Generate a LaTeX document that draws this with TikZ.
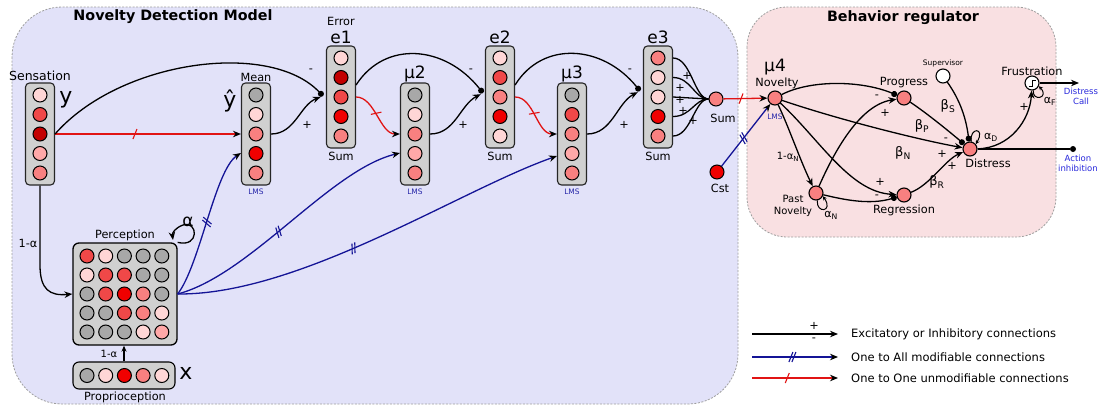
\documentclass[tikz,border=0pt]{standalone}
\usepackage{fontspec}
\setmainfont{DejaVu Sans}
\usetikzlibrary{arrows.meta,decorations.markings,calc}
\definecolor{bgblue}{RGB}{226,226,249}
\definecolor{bgpink}{RGB}{249,224,226}
\definecolor{cg}{RGB}{168,168,168}
\definecolor{ca}{RGB}{255,214,214}
\definecolor{cb}{RGB}{255,168,168}
\definecolor{cc}{RGB}{248,128,128}
\definecolor{cd}{RGB}{240,72,72}
\definecolor{ce}{RGB}{240,0,0}
\definecolor{cf}{RGB}{195,0,0}
\definecolor{lmsblue}{RGB}{40,40,170}
\definecolor{txtblue}{RGB}{40,40,220}
\definecolor{conblue}{RGB}{20,20,150}
\definecolor{conred}{RGB}{225,20,20}
\definecolor{boxgray}{RGB}{208,208,208}
\newcommand{\mkcol}[8]{%
  \node[colbox] (#1) at (#2,#3) {};
  \node[neur,fill=#4] (#1a) at (#2,#3-39) {};
  \node[neur,fill=#5] (#1b) at (#2,#3-19.5) {};
  \node[neur,fill=#6] (#1c) at (#2,#3) {};
  \node[neur,fill=#7] (#1d) at (#2,#3+19.5) {};
  \node[neur,fill=#8] (#1e) at (#2,#3+39) {};
}
\begin{document}
\begin{tikzpicture}[x=1pt,y=-1pt,
  neur/.style={circle,draw=black,line width=1pt,minimum size=14pt,inner sep=0pt},
  brn/.style={circle,draw=black,line width=1.1pt,fill=cc,minimum size=14pt,inner sep=0pt},
  colbox/.style={rectangle,draw=black!85,fill=boxgray,line width=1.1pt,rounded corners=4pt,minimum width=29pt,minimum height=102pt,inner sep=0pt},
  bgreg/.style={draw=gray!75,line width=0.8pt,dash pattern=on 2pt off 1.5pt},
  title/.style={font=\fontsize{14.3}{17}\selectfont\bfseries},
  lab/.style={font=\fontsize{11.3}{13}\selectfont,inner sep=0pt},
  slab/.style={font=\fontsize{10}{12}\selectfont,inner sep=0pt},
  big/.style={font=\fontsize{22}{24}\selectfont,inner sep=0pt},
  mid/.style={font=\fontsize{17}{19}\selectfont,inner sep=0pt},
  lms/.style={font=\fontsize{7.5}{9}\selectfont,text=lmsblue,inner sep=0pt},
  blab/.style={font=\fontsize{8.5}{10}\selectfont,text=txtblue,inner sep=0pt,align=center},
  leg/.style={font=\fontsize{11.5}{13}\selectfont,inner sep=0pt,anchor=west},
  exc/.style={draw=black,line width=1.3pt,-{Stealth[length=8pt,width=6.5pt]}},
  inh/.style={draw=black,line width=1.3pt,-{Circle[length=6pt]}},
  blk/.style={draw=black,line width=1.3pt},
  bline/.style={draw=conblue,line width=1.3pt,-{Stealth[length=8pt,width=6.5pt,color=black]}},
  rline/.style={draw=conred,line width=1.3pt,-{Stealth[length=8pt,width=6.5pt,color=black]}},
  oneslash/.style={postaction={decorate,decoration={markings,mark=at position #1 with {\draw[conred,line width=1.1pt,-] (-2pt,-5pt) -- (2pt,5pt);}}}},
  twoslash/.style={postaction={decorate,decoration={markings,mark=at position #1 with {\draw[conblue,line width=1.1pt,-] (-3.5pt,-5pt) -- (0.5pt,5pt); \draw[conblue,line width=1.1pt,-] (-0.5pt,-5pt) -- (3.5pt,5pt);}}}}
]
\useasboundingbox (0,0) rectangle (1104,408);
\fill[white] (0,0) rectangle (1104,408);
% regions
\draw[bgreg,fill=bgblue,rounded corners=50pt] (12,7) rectangle (738,404);
\draw[bgreg,fill=bgpink,rounded corners=40pt] (747,7) rectangle (1056,237);
\node[title] (t1) at (173,17) {Novelty Detection Model};
\node[title] (t2) at (903,18) {Behavior regulator};

% columns
\mkcol{sens}{40}{134}{ca}{cd}{cf}{cb}{cc}
\mkcol{mean}{256}{134}{cg}{ca}{cc}{ce}{cc}
\mkcol{eone}{341}{97}{ca}{cf}{cd}{ce}{cc}
\mkcol{mutwo}{415}{134}{cg}{ca}{cc}{cb}{cc}
\mkcol{etwo}{500}{97}{ca}{cd}{cc}{ce}{ca}
\mkcol{muthree}{572}{134}{cg}{cd}{cc}{cb}{cc}
\mkcol{ethree}{658}{97}{cc}{ca}{ca}{ce}{cc}

\node[lab,font=\fontsize{12.5}{14}\selectfont] (lsens) at (40,76) {Sensation};
\node[big] (ly) at (66,100) {y};
\node[lab] (lmean) at (256,77) {Mean};
\node[big] (lyhat) at (230,101) {ŷ};
\node[lms] (lms1) at (256,192) {LMS};
\node[lms] (lms2) at (415,192) {LMS};
\node[lms] (lms3) at (572,192) {LMS};
\node[lab] (lerr) at (341,21) {Error};
\node[mid] (le1) at (341,37) {e1};
\node[mid] (le2) at (500,37) {e2};
\node[mid] (le3) at (658,37) {e3};
\node[mid] (lmu2) at (415,74) {μ2};
\node[mid] (lmu3) at (572,74) {μ3};
\node[lab] (ls1) at (341,156) {Sum};
\node[lab] (ls2) at (500,156) {Sum};
\node[lab] (ls3) at (658,156) {Sum};

% junctions
\coordinate (jone) at (323,96);
\coordinate (jtwo) at (483,93);
\coordinate (jthree) at (640,91);

\draw[rline,oneslash=0.43] (sens.east) -- (mean.west);
\draw[inh] (sens.east) .. controls (120,60) and (270,40) .. (jone);
\draw[exc,shorten >=2.5pt] (mean.east) .. controls (295,134) and (300,105) .. (jone);
\draw[rline,oneslash=0.45] (eone.east) .. controls (375,97) and (380,134) .. (mutwo.west);
\draw[inh] ([yshift=12pt]eone.east) .. controls (385,40) and (445,45) .. (jtwo);
\draw[exc,shorten >=2.5pt] (mutwo.east) .. controls (455,134) and (460,105) .. (jtwo);
\draw[rline,oneslash=0.45] (etwo.east) .. controls (534,97) and (537,134) .. (muthree.west);
\draw[inh] ([yshift=12pt]etwo.east) .. controls (543,40) and (603,45) .. (jthree);
\draw[exc,shorten >=2.5pt] (muthree.east) .. controls (612,134) and (617,103) .. (jthree);
\node[lab] at (311,71) {-};
\node[lab] at (471,71) {-};
\node[lab] at (630,71) {-};
\node[lab] at (307,125) {+};
\node[lab] at (463,125) {+};
\node[lab] at (624,125) {+};

% sum and cst
\node[neur,fill=cc] (sumn) at (716,99) {};
\node[neur,fill=ce] (cst) at (717,172) {};
\node[lab] (lsum) at (723,118) {Sum};
\node[lab] (lcst) at (720,188) {Cst};
\foreach \s in {a,b,d,e}
  \draw[blk] (ethree.east |- ethree\s) .. controls +(18,0) and +(-14,0) .. (sumn.west);
\draw[exc] (ethree.east |- ethreec) -- (sumn.west);
\node[lab] at (687,76) {+};
\node[lab] at (680,88) {+};
\node[lab] at (680,100) {+};
\node[lab] at (683,111) {+};
\node[lab] at (693,121) {+};

% perception
\node[rectangle,draw=black,fill=boxgray,line width=1.3pt,rounded corners=6pt,minimum width=104pt,minimum height=102pt] (perc) at (125,294) {};
\foreach \c [count=\j] in {cd,ca,cg,cg,cg} \node[neur,fill=\c] (pa\j) at ({87+18.7*(\j-1)},256) {};
\foreach \c [count=\j] in {ca,cd,cd,cg,cg} \node[neur,fill=\c] (pb\j) at ({87+18.7*(\j-1)},275) {};
\foreach \c [count=\j] in {cg,cd,ce,cc,cg} \node[neur,fill=\c] (pc\j) at ({87+18.7*(\j-1)},294) {};
\foreach \c [count=\j] in {cg,cg,cd,cc,ca} \node[neur,fill=\c] (pd\j) at ({87+18.7*(\j-1)},313) {};
\foreach \c [count=\j] in {cg,cg,cg,ca,cb} \node[neur,fill=\c] (pe\j) at ({87+18.7*(\j-1)},332) {};
\node[lab] (lperc) at (125,235) {Perception};
\node[rectangle,draw=black,fill=boxgray,line width=1.1pt,rounded corners=6pt,minimum width=102pt,minimum height=27pt] (prop) at (124,375.5) {};
\foreach \c [count=\j] in {cg,ca,ce,cc,ca} \node[neur,fill=\c] (pr\j) at ({87+18.7*(\j-1)},375.5) {};
\node[lab] (lprop) at (125,397) {Proprioception};
\node[big] (lx) at (186,373) {x};
\node[slab] (lpa) at (109,354) {1-α};
\draw[exc,-{Stealth[length=6pt,width=5pt]}] (prop.north) -- (prop.north |- perc.south);
\draw[exc] (perc.north east) .. controls (200,248) and (198,220) .. (183,225) .. controls (175,228) and (172,233) .. (173,240);
\node[mid] (lalpha) at (188,222) {α};

\draw[exc] (sens.south) -- (40,265) .. controls (40,290) and (50,296) .. (perc.west);
\node[lab] (lsa) at (28,243) {1-α};

\draw[bline,twoslash=0.5] (perc.east) .. controls (200,265) and (215,170) .. ([yshift=-19pt]mean.west);
\draw[bline,twoslash=0.45] (perc.east) .. controls (250,275) and (330,170) .. ([yshift=-19pt]mutwo.west);
\draw[bline,twoslash=0.45] (perc.east) .. controls (300,295) and (460,190) .. ([yshift=-22pt]muthree.west);

% behavior regulator
\node[brn] (nov) at (775,98) {};
\node[brn] (prog) at (904,98) {};
\node[brn,fill=white] (sup) at (943,76) {};
\node[brn,fill=white] (frus) at (1032,83) {};
\node[brn] (dist) at (970,149) {};
\node[brn] (pn) at (816,193) {};
\node[brn] (reg) at (904,195) {};
\coordinate (dcall) at (1079,83);
\node[circle,fill=black,inner sep=0pt,minimum size=6pt] (aidot) at (1073,149) {};
\draw[line width=0.8pt] ($(frus)+(-3.5,3)$) -- ++(3.5,0) -- ++(0,-6) -- ++(3.5,0);

\draw[rline,oneslash=0.4] (sumn) -- (nov);
\draw[bline,twoslash=0.45] (cst) -- (nov);

\draw[inh] (nov) .. controls (810,80) and (860,80) .. (prog);
\draw[exc] (pn) .. controls (835,150) and (860,105) .. (prog);
\draw[exc] (nov) .. controls (790,130) and (800,160) .. (pn);
\draw[exc] (nov) .. controls (820,140) and (850,192) .. (reg);
\draw[inh] (pn) .. controls (845,200) and (870,205) .. (reg);
\draw[exc] (nov) .. controls (840,120) and (920,140) .. (dist);
\draw[inh] (prog) .. controls (925,112) and (945,128) .. (dist);
\draw[inh] (sup) .. controls (960,100) and (966,118) .. (dist);
\draw[exc] (reg) .. controls (930,185) and (945,160) .. (dist);
\draw[exc] (dist) .. controls (1010,148) and (1030,120) .. (frus);
\draw[exc] (frus) -- (dcall);
\draw[blk] (dist) -- (aidot);
% self loops
\draw[blk,line width=1pt,-{Stealth[length=4pt,width=4pt]}] (dist.80) .. controls (969,127) and (986,127) .. (dist.40);
\draw[blk,line width=1pt,-{Stealth[length=4pt,width=4pt]}] (pn.-80) .. controls (816,214) and (834,212) .. (pn.-25);
\draw[blk,line width=1pt,-{Stealth[length=4pt,width=4pt]}] (frus.-80) .. controls (1032,102) and (1050,98) .. (frus.-25);

\node[mid] (lmu4) at (775,67) {μ4};
\node[lab] (lnov) at (777,83) {Novelty};
\node[lms] (lms4) at (775,117) {LMS};
\node[lab] (lprog) at (904,83) {Progress};
\node[lab,font=\fontsize{7.5}{9}\selectfont] (lsup) at (943,63) {Supervisor};
\node[lab] (lfrus) at (1032,71) {Frustration};
\node[lab] (ldist) at (988,163) {Distress};
\node[slab,align=center] (lpn) at (793,206) {Past\\Novelty};
\node[lab] (lreg) at (904,210) {Regression};
\node[blab] (ldc) at (1081,96) {Distress\\Call};
\node[blab] (lai) at (1078,163) {Action\\inhibition};
\node[lab] at (877,97) {-};
\node[lab] at (885,113) {+};
\node[slab] at (788,157) {1-α\textsubscript{N}};
\node[lab] at (880,182) {+};
\node[lab] at (877,197) {-};
\node[lab,font=\fontsize{13}{15}\selectfont] at (903,153) {β\textsubscript{N}};
\node[lab] at (942,154) {+};
\node[lab,font=\fontsize{13}{15}\selectfont] at (922,126) {β\textsubscript{P}};
\node[lab] at (946,140) {-};
\node[lab,font=\fontsize{13}{15}\selectfont] at (948,106) {β\textsubscript{S}};
\node[lab,font=\fontsize{13}{15}\selectfont] at (937,182) {β\textsubscript{R}};
\node[lab] at (952,166) {+};
\node[lab] at (1024,107) {+};
\node[slab,font=\fontsize{11}{13}\selectfont] at (991,137) {α\textsubscript{D}};
\node[slab,font=\fontsize{11}{13}\selectfont] at (831,215) {α\textsubscript{N}};
\node[slab,font=\fontsize{11}{13}\selectfont] at (1050,101) {α\textsubscript{F}};

% legend
\coordinate (la1) at (752,334); \coordinate (lb1) at (838,334);
\coordinate (la2) at (752,357); \coordinate (lb2) at (838,357);
\coordinate (la3) at (752,378); \coordinate (lb3) at (838,378);
\draw[exc] (la1) -- (lb1);
\draw[bline,twoslash=0.47] (la2) -- (lb2);
\draw[rline,oneslash=0.41] (la3) -- (lb3);
\node[lab] at (814,326) {+};
\node[lab] at (814,340) {-};
\node[leg] at (851,334) {Excitatory or Inhibitory connections};
\node[leg] at (851,357) {One to All modifiable connections};
\node[leg] at (851,378) {One to One unmodifiable connections};
\end{tikzpicture}
\end{document}
